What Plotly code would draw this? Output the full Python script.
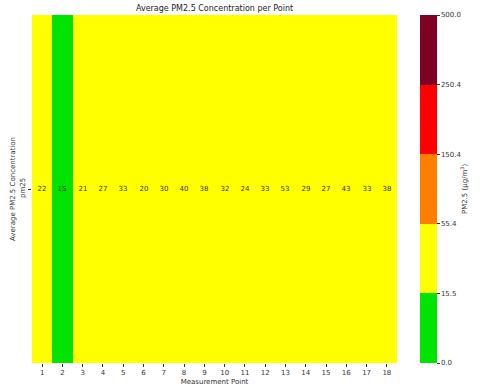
import plotly.graph_objects as go

points = [str(i) for i in range(1, 19)]
pm25 = [22, 15, 21, 27, 33, 20, 30, 40, 38, 32, 24, 33, 53, 29, 27, 43, 33, 38]
bounds = [0.0, 15.5, 55.4, 150.4, 250.4, 500.0]
band_colors = ["#00e400", "#ffff00", "#ff7e00", "#ff0000", "#7e0023"]

# map values onto evenly spaced bands, like a BoundaryNorm
def to_band(v):
    for i in range(len(bounds) - 1):
        if bounds[i] <= v < bounds[i + 1]:
            return i + (v - bounds[i]) / (bounds[i + 1] - bounds[i])
    return len(bounds) - 1

z = [[to_band(v) for v in pm25]]
n = len(band_colors)
scale = []
for i, c in enumerate(band_colors):
    scale.append([i / n, c])
    scale.append([(i + 1) / n, c])

fig = go.Figure(go.Heatmap(
    z=z, x=points, y=["pm25"],
    text=[[str(v) for v in pm25]], texttemplate="%{text}",
    textfont=dict(size=7, color="#333333"),
    colorscale=scale, zmin=0, zmax=n, xgap=0, ygap=0, hoverinfo="skip",
    colorbar=dict(
        x=1.063, xanchor="left", y=0.5, yanchor="middle", len=1, thickness=17,
        xpad=0, ypad=0,
        outlinewidth=0, tickvals=list(range(n + 1)),
        ticktext=[f"{b:.1f}" for b in bounds],
        ticks="outside", ticklen=3, tickcolor="#333", tickfont=dict(size=7, color="#333"),
    ),
))

fig.update_layout(
    width=480, height=392,
    margin=dict(l=32, r=83, t=15, b=29, autoexpand=False),
    paper_bgcolor="white", plot_bgcolor="white",
    font=dict(family="DejaVu Sans", size=7, color="#333"),
    title=dict(text="Average PM2.5 Concentration per Point", x=0.5, xref="paper",
               y=1 - 8.5 / 392, yanchor="middle", font=dict(size=8, color="#222")),
    annotations=[dict(text="PM2.5 (µg/m<sup>3</sup>)", textangle=-90, x=1.203, y=0.5,
                      xref="paper", yref="paper", showarrow=False,
                      font=dict(size=7, color="#333"))],
)
fig.update_xaxes(title=dict(text="Measurement Point", standoff=2, font=dict(size=7)),
                 ticks="outside", ticklen=3, tickcolor="#333", showgrid=False, automargin=False)
fig.update_yaxes(title=dict(text="Average PM2.5 Concentration", standoff=2, font=dict(size=7)),
                 ticks="outside", ticklen=3, tickcolor="#333", tickangle=-90, showgrid=False,
                 automargin=False)

# drop the browser's default 8px body margin so the figure fills the window
fig.write_html("out.html", config={"displayModeBar": False},
               post_script="document.body.style.margin='0';")
